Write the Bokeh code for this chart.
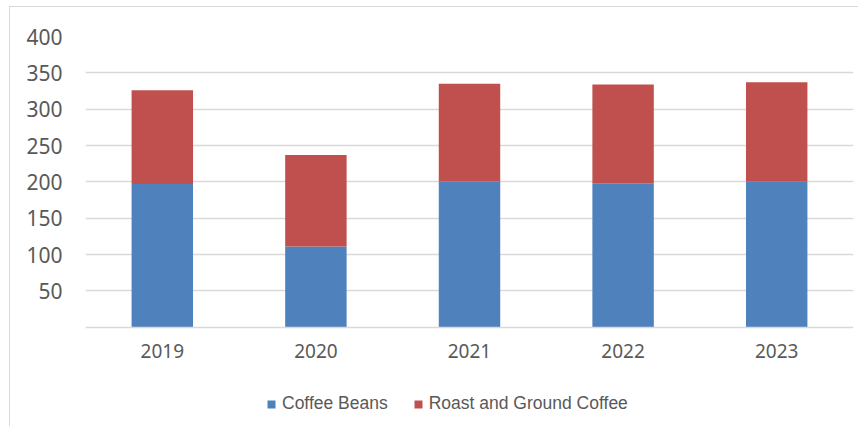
from bokeh.plotting import figure
from bokeh.models import ColumnDataSource, FixedTicker, Legend, LegendItem
from bokeh.embed import file_html
from bokeh.resources import INLINE

years = ["2019", "2020", "2021", "2022", "2023"]
coffee_beans = [197, 111, 201, 198, 200]
roast_ground = [129, 126, 134, 136, 137]
series = ["Coffee Beans", "Roast and Ground Coffee"]
colors = ["#4f81bd", "#c0504d"]
y_ticks = [50, 100, 150, 200, 250, 300, 350, 400]

source = ColumnDataSource(data={"year": years, "Coffee Beans": coffee_beans,
                                "Roast and Ground Coffee": roast_ground})

p = figure(x_range=years, y_range=(-138, 400), width=849, height=420,
           output_backend="svg", toolbar_location=None,
           min_border_left=75, min_border_right=6, min_border_top=29, min_border_bottom=0)
p.styles = {"border-top": "1px solid #d9d9d9", "border-left": "1px solid #d9d9d9",
            "margin-left": "9px", "margin-top": "6px"}

renderers = p.vbar_stack(series, x="year", width=0.4, source=source, color=colors,
                         line_color=None)

p.outline_line_color = None
p.background_fill_color = "white"
p.border_fill_color = "white"

p.xgrid.grid_line_color = None
p.ygrid.ticker = FixedTicker(ticks=y_ticks)
p.ygrid.grid_line_color = "#d9d9d9"
p.ygrid.grid_line_width = 1.5

p.yaxis.ticker = FixedTicker(ticks=y_ticks)
p.yaxis.axis_line_color = None
p.yaxis.major_tick_line_color = None
p.yaxis.minor_tick_line_color = None
p.yaxis.major_tick_out = 0
p.yaxis.major_tick_in = 0
p.yaxis.major_label_standoff = 23
p.yaxis.major_label_text_font = "Noto Sans"
p.yaxis.major_label_text_font_size = "21px"
p.yaxis.major_label_text_color = "#595959"

p.xaxis.fixed_location = 0
p.xaxis.axis_line_color = "#d9d9d9"
p.xaxis.axis_line_width = 1.5
p.xaxis.major_tick_line_color = None
p.xaxis.minor_tick_line_color = None
p.xaxis.major_tick_out = 0
p.xaxis.major_tick_in = 0
p.xaxis.major_label_standoff = 17
p.xaxis.major_label_text_font = "Noto Sans"
p.xaxis.major_label_text_font_size = "19px"
p.xaxis.major_label_text_color = "#595959"

legend = Legend(items=[LegendItem(label=s, renderers=[r]) for s, r in zip(series, renderers)],
                orientation="horizontal", location=(181, 13),
                glyph_width=10, glyph_height=10, label_standoff=6, spacing=25,
                padding=0, margin=0, border_line_color=None, background_fill_alpha=0,
                label_text_font="Liberation Sans", label_text_font_size="17.5px",
                label_text_color="#595959")
p.add_layout(legend, "center")

open("out.html", "w").write(file_html(p, INLINE))
